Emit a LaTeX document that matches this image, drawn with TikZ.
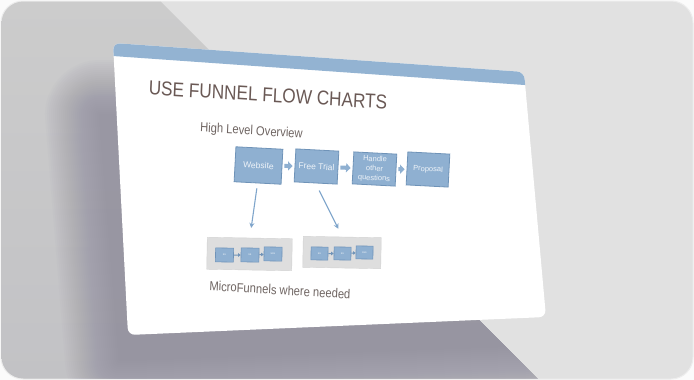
\documentclass[tikz,border=0pt]{standalone}
\usepackage{fontspec}
\setmainfont{Liberation Sans}
\usetikzlibrary{arrows.meta,positioning,calc}

\definecolor{pageWhite}{HTML}{FBFBFB}
\definecolor{bgLight}{HTML}{E1E1E1}
\definecolor{bgEdge}{HTML}{EDEDED}
\definecolor{wedgeTop}{HTML}{CCCCCC}
\definecolor{wedgeBottom}{HTML}{C2C2C5}
\definecolor{shadowTint}{HTML}{858296}
\definecolor{barBlue}{HTML}{93B3D2}
\definecolor{boxFill}{HTML}{8FB0D1}
\definecolor{boxLine}{HTML}{6F93B8}
\definecolor{boxText}{HTML}{EEF3F8}
\definecolor{lineBlue}{HTML}{7FA5CB}
\definecolor{trayGray}{HTML}{DEDEDE}
\definecolor{trayLine}{HTML}{D2D2D2}
\definecolor{titleBrown}{HTML}{6A5955}
\definecolor{subGray}{HTML}{6F6562}

\begin{document}
\begin{tikzpicture}[
  x=1pt, y=-1pt,
  every node/.style={font=\small},
  slidetext/.style={text=titleBrown, xscale=0.86, rotate=-3, inner sep=0pt},
  stage/.style={draw=boxLine, fill=boxFill, text=boxText, line width=0.8pt,
    rotate=-3, inner sep=1pt, align=center, font=\fontsize{8.5}{10}\selectfont},
  push/.style={draw=boxFill, line width=4pt, -{Triangle[length=4.5pt,width=9pt]},
    shorten <=2pt, shorten >=2pt},
  drill/.style={draw=lineBlue, line width=1.1pt, -{Stealth[length=5pt,width=5pt]}},
  tray/.style={fill=trayGray, draw=trayLine, line width=0.4pt, rotate=-1},
  mini/.style={draw=boxLine, fill=boxFill, text=boxText, line width=0.6pt,
    minimum width=18pt, minimum height=14pt, inner sep=0pt, rotate=-1,
    font=\fontsize{3}{3}\selectfont},
  hop/.style={draw=boxLine, line width=1pt, -{Triangle[length=2.5pt,width=3.5pt]}},
]
  \useasboundingbox (0,0) rectangle (694,380);
  \fill[pageWhite] (0,0) rectangle (694,380);

  % backdrop
  \path[fill=bgLight, draw=bgEdge, line width=1pt, rounded corners=22pt]
    (1,1) rectangle (693,379);
  \begin{scope}
    \clip[rounded corners=22pt] (1.5,1.5) rectangle (692.5,378.5);
    \clip (0,0) -- (159,0) -- (539,380) -- (0,380) -- cycle;
    \shade[top color=wedgeTop, bottom color=wedgeBottom] (0,0) rectangle (540,380);
    % soft shadow of the slide
    \foreach \w in {110,106,...,2}{
      \begin{scope}[transparency group, opacity=0.03]
        \filldraw[fill=shadowTint, draw=shadowTint, line width=\w pt,
          line join=round]
          (100,115) -- (500,118) -- (525,345) -- (120,360) -- cycle;
      \end{scope}
    }
  \end{scope}

  % the slide
  \coordinate (slideTL) at (113,43);
  \coordinate (slideTR) at (524,72);
  \coordinate (slideBR) at (546,317);
  \coordinate (slideBL) at (128,335);
  \fill[white, rounded corners=7pt]
    (slideTL) -- (slideTR) -- (slideBR) -- (slideBL) -- cycle;
  \begin{scope}
    \clip[rounded corners=7pt]
      (slideTL) -- (slideTR) -- (slideBR) -- (slideBL) -- cycle;
    \fill[barBlue] (100,0) -- (560,0) -- (560,87.5) -- (100,55.1) -- cycle;
  \end{scope}

  % texts
  \node[slidetext, font=\fontsize{20}{24}\selectfont] (title) at (268,95)
    {USE FUNNEL FLOW CHARTS};
  \node[slidetext, text=subGray, font=\fontsize{13}{15}\selectfont] (overview)
    at (251.5,131.5) {High Level Overview};
  \node[slidetext, text=subGray, font=\fontsize{13}{15}\selectfont] (micro)
    at (280,290) {MicroFunnels where needed};

  % high level funnel
  \node[stage, minimum width=47pt, minimum height=35pt] (web)
    at (258.5,165.5) {Website};
  \node[stage, minimum width=43pt, minimum height=33pt] (trial)
    at (316.5,166.5) {Free Trial};
  \node[stage, minimum width=43pt, minimum height=32pt,
    font=\fontsize{7.5}{9.5}\selectfont] (handle)
    at (374.5,169) {Handle\\other\\questions};
  \node[stage, minimum width=42pt, minimum height=33pt,
    font=\fontsize{7.5}{9}\selectfont] (proposal)
    at (428,169.5) {Proposal};
  \draw[push] (web) -- (trial);
  \draw[push] (trial) -- (handle);
  \draw[push] (handle) -- (proposal);

  % micro funnels
  \node[tray, minimum width=85pt, minimum height=32pt] (trayA) at (249.5,254) {};
  \node[tray, minimum width=78pt, minimum height=31pt] (trayB) at (342,252.5) {};
  \node[mini] (a1) at (224.5,255) {ss};
  \node[mini] (a2) at (250,255) {ss};
  \node[mini] (a3) at (273,254) {sss};
  \node[mini, minimum width=17pt, minimum height=13pt] (b1) at (319.5,253.5) {ss};
  \node[mini, minimum width=17pt, minimum height=13pt] (b2) at (342.5,253.5) {ss};
  \node[mini, minimum width=17pt, minimum height=13pt] (b3) at (364.5,252.5) {sss};
  \draw[hop] (a1) -- (a2);
  \draw[hop] (a2) -- (a3);
  \draw[hop] (b1) -- (b2);
  \draw[hop] (b2) -- (b3);

  \draw[drill, shorten <=5pt, shorten >=10pt] (web.south) -- (trayA.north);
  \draw[drill, shorten <=8pt, shorten >=9pt] (trial.south) -- (trayB.north);
\end{tikzpicture}
\end{document}
